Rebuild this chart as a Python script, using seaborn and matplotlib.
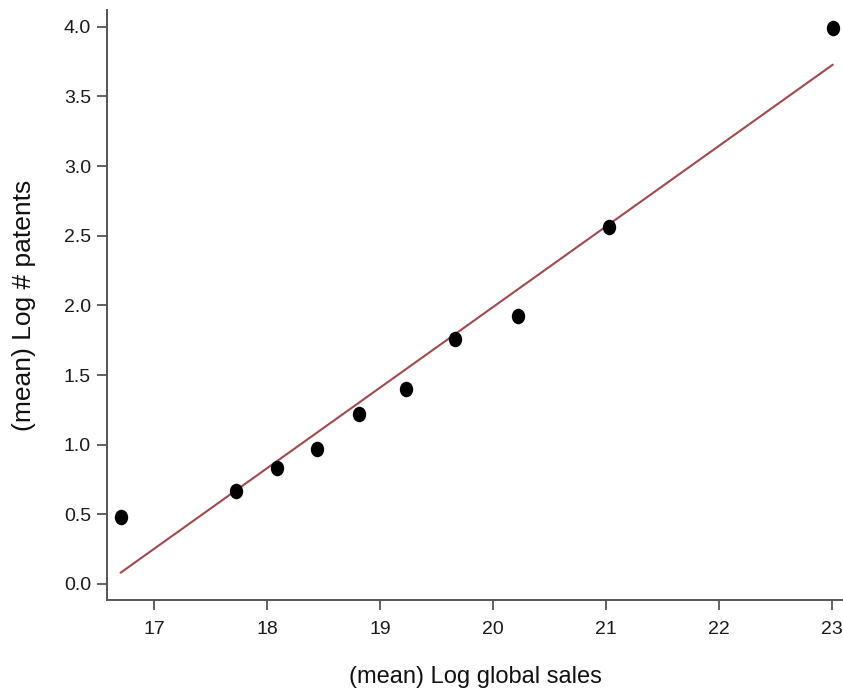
import numpy as np
import pandas as pd
import matplotlib
matplotlib.use("Agg")
import matplotlib.pyplot as plt
from matplotlib.path import Path
from matplotlib.transforms import Affine2D
import seaborn as sns

# Data (binned means)
log_sales = [16.70, 17.72, 18.09, 18.44, 18.81, 19.23, 19.66, 20.22, 21.03, 23.01]
log_patents = [0.48, 0.67, 0.83, 0.97, 1.22, 1.40, 1.76, 1.92, 2.56, 3.99]
fit_intercept = -9.572
fit_slope = 0.578
x_ticks = [17, 18, 19, 20, 21, 22, 23]
y_ticks = [0.0, 0.5, 1.0, 1.5, 2.0, 2.5, 3.0, 3.5, 4.0]
x_label = "(mean) Log global sales"
y_label = "(mean) Log # patents"

sns.set_style("ticks")
plt.rcParams["font.family"] = ["Liberation Sans", "DejaVu Sans"]

df = pd.DataFrame({"sales": log_sales, "patents": log_patents})
xr = np.array([min(log_sales), max(log_sales)])
fit_df = pd.DataFrame({"sales": xr, "patents": fit_intercept + fit_slope * xr})

fig = plt.figure(figsize=(8.43, 6.95), dpi=100)
ax = fig.add_axes([107 / 843, 95 / 695, 736 / 843, 590 / 695])

sns.lineplot(data=fit_df, x="sales", y="patents", color="#9E4A4E", linewidth=1.5, ax=ax)

ellipse = Path.unit_circle().transformed(Affine2D().scale(0.86, 1.0))
sns.scatterplot(data=df, x="sales", y="patents", marker=ellipse, s=125,
                color="black", linewidth=0, ax=ax, zorder=3)

ax.set_xlim(16.58, 23.10)
ax.set_ylim(-0.115, 4.12)
ax.set_xticks(x_ticks)
ax.set_xticklabels([str(t) for t in x_ticks])
ax.set_yticks(y_ticks)
ax.set_yticklabels([f"{t:.1f}" for t in y_ticks])

for side in ["top", "right"]:
    ax.spines[side].set_visible(False)
for side in ["left", "bottom"]:
    ax.spines[side].set_color("#555555")
    ax.spines[side].set_linewidth(1.4)

ax.tick_params(axis="both", direction="out", length=7, width=1.3,
               color="#555555", labelsize=14, labelcolor="#1a1a1a")
ax.tick_params(axis="y", pad=4.5)
ax.tick_params(axis="x", pad=8)

ax.set_xlabel(x_label, fontsize=17, color="#111111")
ax.set_ylabel(y_label, fontsize=19, color="#111111")
ax.xaxis.set_label_coords(0.5, -0.112)
ax.xaxis.label.set_va("top")
ax.yaxis.set_label_coords(-0.096, 0.5)

fig.savefig("out.png", dpi=100)
